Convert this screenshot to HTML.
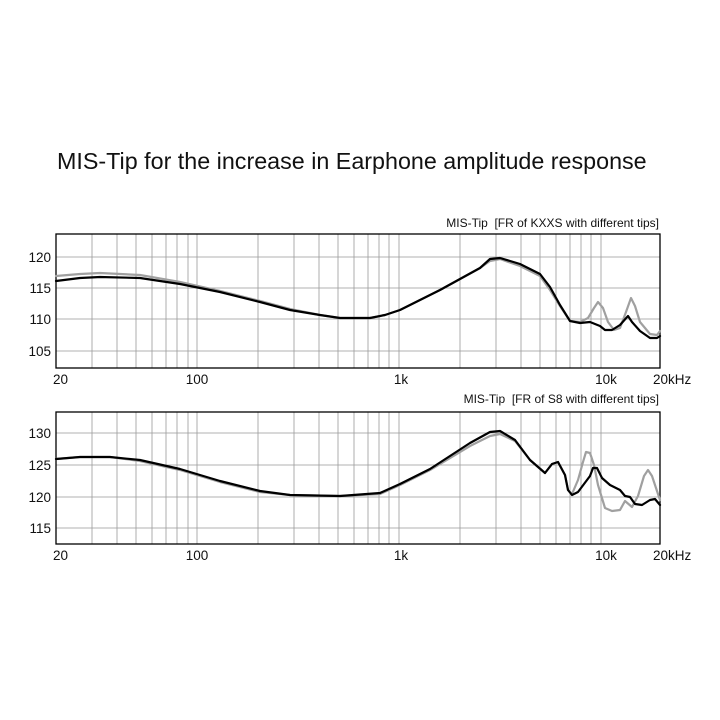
<!DOCTYPE html>
<html><head><meta charset="utf-8"><style>body{margin:0;background:#fff}svg{display:block}</style></head><body>
<svg width="720" height="720" xmlns="http://www.w3.org/2000/svg" font-family="Liberation Sans, sans-serif">
<rect width="720" height="720" fill="#fff"/>
<text x="57" y="169" font-size="23.3" fill="#111">MIS-Tip for the increase in Earphone amplitude response</text>
<text x="659" y="227" font-size="12" text-anchor="end" fill="#111">MIS-Tip&#160;&#160;[FR of KXXS with different tips]</text>
<text x="659" y="403" font-size="12" text-anchor="end" fill="#111">MIS-Tip&#160;&#160;[FR of S8 with different tips]</text>
<g stroke="#999" stroke-width="0.8">
<line x1="56" x2="660" y1="257" y2="257"/><line x1="56" x2="660" y1="288" y2="288"/><line x1="56" x2="660" y1="319" y2="319"/><line x1="56" x2="660" y1="351" y2="351"/>
<line x1="56" x2="660" y1="433" y2="433"/><line x1="56" x2="660" y1="465" y2="465"/><line x1="56" x2="660" y1="497" y2="497"/><line x1="56" x2="660" y1="528" y2="528"/>
<path d="M92 234V368M117 234V368M136 234V368M152 234V368M166 234V368M177 234V368M188 234V368M197 234V368M258 234V368M294 234V368M319 234V368M338 234V368M354 234V368M368 234V368M379 234V368M389 234V368M399 234V368M460 234V368M496 234V368M521 234V368M540 234V368M556 234V368M570 234V368M581 234V368M591 234V368M601 234V368"/>
<path d="M92 412V544M117 412V544M136 412V544M152 412V544M166 412V544M177 412V544M188 412V544M197 412V544M258 412V544M294 412V544M319 412V544M338 412V544M354 412V544M368 412V544M379 412V544M389 412V544M399 412V544M460 412V544M496 412V544M521 412V544M540 412V544M556 412V544M570 412V544M581 412V544M591 412V544M601 412V544"/>
</g>
<rect x="56" y="234" width="604" height="134" fill="none" stroke="#000" stroke-width="1.3"/>
<rect x="56" y="412" width="604" height="132" fill="none" stroke="#000" stroke-width="1.3"/>
<g font-size="13.5" fill="#111">
<text x="51" y="262" text-anchor="end">120</text><text x="51" y="293" text-anchor="end">115</text><text x="51" y="324" text-anchor="end">110</text><text x="51" y="356" text-anchor="end">105</text>
<text x="51" y="438" text-anchor="end">130</text><text x="51" y="470" text-anchor="end">125</text><text x="51" y="502" text-anchor="end">120</text><text x="51" y="533" text-anchor="end">115</text>
<text x="53" y="384">20</text><text x="197" y="384" text-anchor="middle">100</text><text x="401" y="384" text-anchor="middle">1k</text><text x="606" y="384" text-anchor="middle">10k</text><text x="653" y="384">20kHz</text>
<text x="53" y="560">20</text><text x="197" y="560" text-anchor="middle">100</text><text x="401" y="560" text-anchor="middle">1k</text><text x="606" y="560" text-anchor="middle">10k</text><text x="653" y="560">20kHz</text>
</g>
<g fill="none" stroke-linejoin="round" stroke-linecap="round">
<polyline stroke="#a0a0a0" stroke-width="2.2" points="56,276 80,274 100,273 140,275 180,282 220,291 260,301 290,309 320,315 340,318 370,318 385,315 400,310 440,290 480,268 490,261 500,259 520,266 540,276 550,290 560,306 570,321 580,322 588,318 594,308 598,302 603,308 608,322 614,330 620,328 626,312 631,298 635,306 640,322 650,334 657,335 660,331"/>
<polyline stroke="#000" stroke-width="2.2" points="56,281 80,278 100,277 140,278 180,284 220,292 260,302 290,310 320,315 340,318 370,318 385,315 400,310 440,290 480,268 490,259 500,258 520,264 540,274 550,287 560,305 570,321 580,323 590,322 600,326 605,330 612,330 620,325 628,316 632,322 640,331 650,338 657,338 660,336"/>
<polyline stroke="#a0a0a0" stroke-width="2.2" points="56,459 80,457 110,457 140,461 180,470 220,482 260,492 290,495 340,496 380,494 400,485 430,470 470,446 490,436 500,434 515,441 530,460 545,473 552,464 558,462 565,475 568,490 572,494 578,480 583,462 586,452 590,453 594,465 598,485 605,508 612,511 620,510 625,501 632,507 638,496 644,476 648,470 652,476 660,500"/>
<polyline stroke="#000" stroke-width="2.2" points="56,459 80,457 110,457 140,460 180,469 220,481 260,491 290,495 340,496 380,493 400,484 430,469 470,443 490,432 500,431 515,440 530,460 545,473 552,464 558,462 565,475 568,490 572,495 578,492 590,476 593,468 597,468 602,478 610,485 620,490 625,496 630,497 635,504 642,505 650,500 655,499 660,505"/>
</g>
</svg>
</body></html>
